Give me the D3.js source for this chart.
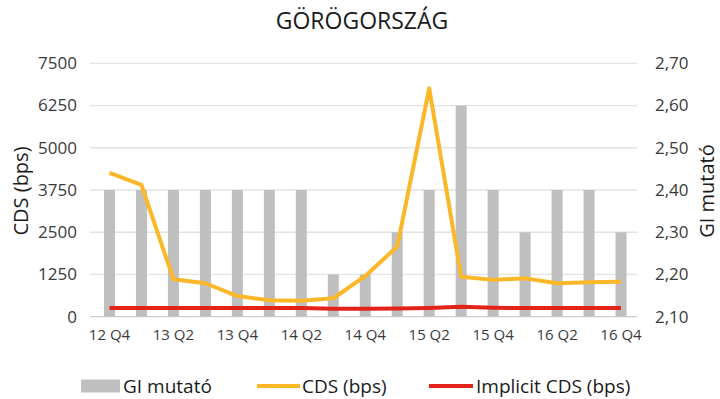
<!DOCTYPE html>
<html><head><meta charset="utf-8">
<script src="https://cdn.jsdelivr.net/npm/d3@7"></script>
<style>
body{margin:0;background:#fff;}
text{font-family:"Open Sans",sans-serif;}
</style></head>
<body><svg id="c" width="720" height="399"></svg>
<script>
const categories = ["12 Q4","13 Q1","13 Q2","13 Q3","13 Q4","14 Q1","14 Q2","14 Q3","14 Q4","15 Q1","15 Q2","15 Q3","15 Q4","16 Q1","16 Q2","16 Q3","16 Q4"];
const giValues = [2.4,2.4,2.4,2.4,2.4,2.4,2.4,2.2,2.2,2.3,2.4,2.6,2.4,2.3,2.4,2.4,2.3];
const cdsValues = [4260,3900,1110,990,610,490,470,545,1205,2075,6760,1185,1090,1135,990,1020,1035];
const implicitValues = [255,255,255,255,255,255,255,235,235,245,260,295,265,255,255,260,255];
const leftTicks = [0,1250,2500,3750,5000,6250,7500];
const rightTicks = [2.1,2.2,2.3,2.4,2.5,2.6,2.7];
const xTickLabels = ["12 Q4","13 Q2","13 Q4","14 Q2","14 Q4","15 Q2","15 Q4","16 Q2","16 Q4"];

const svg = d3.select("#c");
const plotL = 93.5, plotR = 637, plotT = 63.3, plotB = 316.7;
const x = d3.scaleBand().domain(categories).range([plotL, plotR]).padding(0);
const yL = d3.scaleLinear().domain([0,7500]).range([plotB, plotT]);
const yR = d3.scaleLinear().domain([2.1,2.7]).range([plotB, plotT]);
const loc = d3.formatLocale({decimal:",",thousands:" ",grouping:[3],currency:["",""]});
const fR = loc.format(".2f");

// gridlines
svg.append("g").selectAll("line").data(leftTicks).join("line")
  .attr("x1",90).attr("x2",plotR).attr("y1",d=>yL(d)).attr("y2",d=>yL(d))
  .attr("stroke",d=>d===0?"#cfcfcf":"#e3e3e3").attr("stroke-width",1.3);

// left axis
const gL = svg.append("g").attr("transform",`translate(80,0)`)
  .call(d3.axisLeft(yL).tickValues(leftTicks).tickSize(0).tickPadding(3).tickFormat(d=>d));
gL.select(".domain").remove();
gL.selectAll("text").attr("font-size",17).attr("fill","#3a3a3a").attr("font-family","Open Sans");

// right axis
const gR = svg.append("g").attr("transform",`translate(652,0)`)
  .call(d3.axisRight(yR).tickValues(rightTicks).tickSize(0).tickPadding(3).tickFormat(fR));
gR.select(".domain").remove();
gR.selectAll("text").attr("font-size",17).attr("fill","#3a3a3a").attr("font-family","Open Sans");

// x axis
const gX = svg.append("g").attr("transform",`translate(0,${plotB})`)
  .call(d3.axisBottom(x).tickValues(xTickLabels).tickSize(0).tickPadding(13));
gX.select(".domain").remove();
gX.selectAll("text").attr("font-size",15).attr("fill","#3a3a3a").attr("font-family","Open Sans");

// bars
const bw = 11;
svg.append("g").selectAll("rect").data(categories).join("rect")
  .attr("x",(d)=>x(d)+x.bandwidth()/2-bw/2)
  .attr("width",bw)
  .attr("y",(d,i)=>yR(giValues[i]))
  .attr("height",(d,i)=>plotB-yR(giValues[i]))
  .attr("fill","#bfbfbf");

const line = d3.line().x((d,i)=>x(categories[i])+x.bandwidth()/2).y(d=>yL(d));
svg.append("path").datum(implicitValues).attr("d",line)
  .attr("fill","none").attr("stroke","#e2231a").attr("stroke-width",4).attr("stroke-linejoin","round");
svg.append("path").datum(cdsValues).attr("d",line)
  .attr("fill","none").attr("stroke","#fbb727").attr("stroke-width",4).attr("stroke-linejoin","round");

// title
svg.append("text").attr("x",362).attr("y",29).attr("text-anchor","middle")
  .attr("font-size",23).attr("fill","#1a1a1a").text("GÖRÖGORSZÁG");

// axis titles
svg.append("text").attr("transform","translate(28,191) rotate(-90)").attr("text-anchor","middle")
  .attr("font-size",20).attr("fill","#1a1a1a").text("CDS (bps)");
svg.append("text").attr("transform","translate(714,191) rotate(-90)").attr("text-anchor","middle")
  .attr("font-size",20).attr("fill","#1a1a1a").text("GI mutató");

// legend
const lg = svg.append("g");
lg.append("rect").attr("x",81).attr("y",379.5).attr("width",39).attr("height",13).attr("fill","#bfbfbf");
lg.append("text").attr("x",123).attr("y",386).attr("dy","0.35em").attr("font-size",19).attr("fill","#1a1a1a").text("GI mutató");
lg.append("line").attr("x1",257).attr("x2",300).attr("y1",386).attr("y2",386).attr("stroke","#fbb727").attr("stroke-width",4);
lg.append("text").attr("x",302).attr("y",386).attr("dy","0.35em").attr("font-size",19).attr("fill","#1a1a1a").text("CDS (bps)");
lg.append("line").attr("x1",429).attr("x2",473).attr("y1",386).attr("y2",386).attr("stroke","#e2231a").attr("stroke-width",4);
lg.append("text").attr("x",476).attr("y",386).attr("dy","0.35em").attr("font-size",19).attr("fill","#1a1a1a").text("Implicit CDS (bps)");
</script></body></html>
